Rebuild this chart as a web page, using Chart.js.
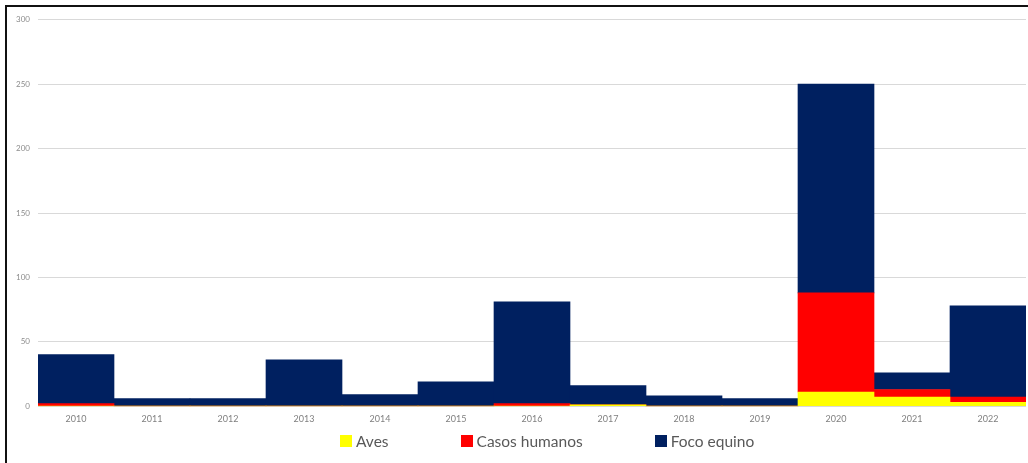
<!DOCTYPE html>
<html>
<head>
<meta charset="utf-8">
<script src="https://cdn.jsdelivr.net/npm/chart.js@4.4.0/dist/chart.umd.min.js"></script>
<style>
  html, body { margin: 0; padding: 0; background: #fff; }
  body { width: 1028px; height: 463px; position: relative; overflow: hidden; font-family: Lato, "Open Sans", sans-serif; }
  #frame { position: absolute; left: 5px; top: 5px; width: 1023px; height: 458px; border-top: 2px solid #111; border-left: 2px solid #111; }
  #wrap { position: absolute; left: 0; top: 0; width: 1021px; height: 456px; }
  #legend { position: absolute; left: 333px; top: 425px; display: flex; align-items: center; font-size: 15.5px; color: #595959; }
  #legend .item { display: flex; align-items: center; margin-right: 72px; }
  #legend .box { width: 12px; height: 12px; margin-right: 4px; }
</style>
</head>
<body>
<div id="frame">
  <div id="wrap"><canvas id="chart"></canvas></div>
  <div id="legend"></div>
</div>
<script>
// Reading of the chart: stacked cases per year
const years = ['2010','2011','2012','2013','2014','2015','2016','2017','2018','2019','2020','2021','2022'];
const aves = [0, 0, 0, 0, 0, 0, 0, 1, 0, 0, 11, 7, 3];
const casosHumanos = [2, 0, 0, 0, 0, 0, 2, 0, 0, 0, 77, 6, 4];
const focoEquino = [38, 6, 6, 36, 9, 19, 79, 15, 8, 6, 162, 13, 71];
const seriesNames = ['Aves', 'Casos humanos', 'Foco equino'];
const seriesColors = ['#FFFF00', '#FF0000', '#002060'];

const seriesData = [aves, casosHumanos, focoEquino];

// html legend, so the items can be spread like the original
const legendEl = document.getElementById('legend');
seriesNames.forEach((name, i) => {
  const item = document.createElement('div');
  item.className = 'item';
  item.innerHTML = `<span class="box" style="background:${seriesColors[i]}"></span><span>${name}</span>`;
  legendEl.appendChild(item);
});

const ctx = document.getElementById('chart').getContext('2d');
new Chart(ctx, {
  type: 'bar',
  data: {
    labels: years,
    datasets: seriesNames.map((name, i) => ({
      label: name,
      data: seriesData[i],
      backgroundColor: seriesColors[i],
      borderWidth: 0,
      barPercentage: 1,
      categoryPercentage: 1
    }))
  },
  options: {
    responsive: true,
    maintainAspectRatio: false,
    animation: false,
    layout: { padding: { top: 6, right: 2, bottom: 32, left: 0 } },
    plugins: { legend: { display: false }, tooltip: { enabled: false } },
    scales: {
      x: {
        stacked: true,
        grid: { display: false, drawTicks: false },
        border: { display: false },
        ticks: { color: '#7f7f7f', font: { family: 'Lato', size: 9 }, padding: 7, maxRotation: 0 }
      },
      y: {
        stacked: true,
        min: 0,
        max: 300,
        afterFit: scale => { scale.width = 31; },
        grid: { color: '#d9d9d9', drawTicks: false },
        border: { display: false },
        ticks: { stepSize: 50, color: '#8c8c8c', font: { family: 'Lato', size: 8 }, padding: 8 }
      }
    }
  }
});
</script>
</body>
</html>
